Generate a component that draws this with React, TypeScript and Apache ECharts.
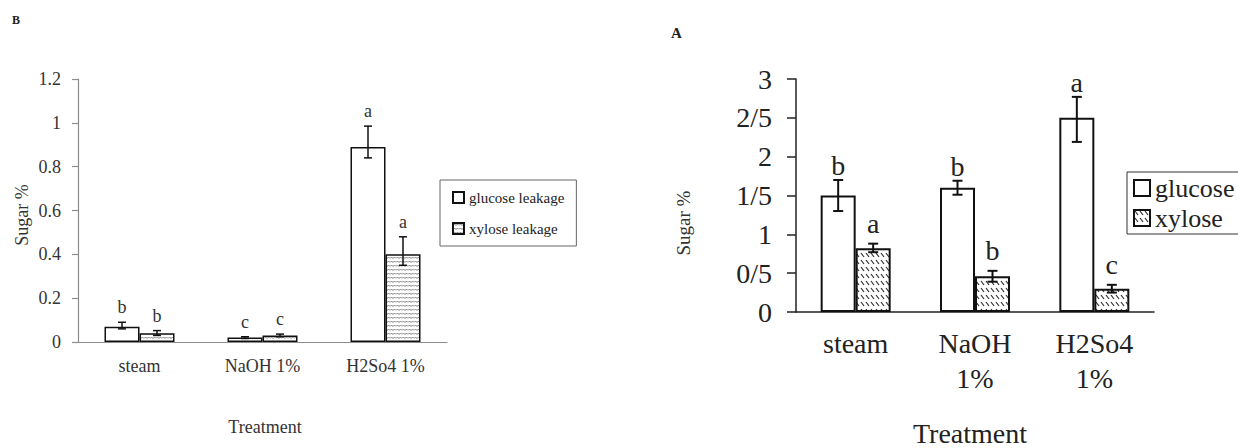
import React, { useEffect, useRef } from 'react';
import * as echarts from 'echarts';

// ---- Panel B data ----
const categoriesB = ['steam', 'NaOH 1%', 'H2So4 1%'];
const glucoseLeakage = [0.07, 0.02, 0.89];
const glucoseLeakagePlus = [0.02, 0.004, 0.095];
const glucoseLeakageMinus = [0.01, 0.004, 0.05];
const glucoseLeakageLetters = ['b', 'c', 'a'];
const xyloseLeakage = [0.04, 0.03, 0.4];
const xyloseLeakagePlus = [0.012, 0.006, 0.08];
const xyloseLeakageMinus = [0.01, 0.006, 0.05];
const xyloseLeakageLetters = ['b', 'c', 'a'];
const ticksB = { min: 0, max: 1.2, interval: 0.2 };

// ---- Panel A data ----
const categoriesA = ['steam', 'NaOH\n1%', 'H2So4\n1%'];
const glucoseA = [1.5, 1.6, 2.5];
const glucoseAPlus = [0.2, 0.09, 0.27];
const glucoseAMinus = [0.2, 0.09, 0.31];
const glucoseALetters = ['b', 'b', 'a'];
const xyloseA = [0.82, 0.46, 0.3];
const xyloseAPlus = [0.06, 0.07, 0.05];
const xyloseAMinus = [0.05, 0.07, 0.05];
const xyloseALetters = ['a', 'b', 'c'];
const ticksA = { min: 0, max: 3, interval: 0.5 };

const SERIF = '"Liberation Serif", "Times New Roman", serif';

function wavyTile() {
  const c = document.createElement('canvas');
  c.width = 6;
  c.height = 4;
  const ctx = c.getContext('2d')!;
  ctx.fillStyle = '#ffffff';
  ctx.fillRect(0, 0, 6, 4);
  ctx.strokeStyle = '#7a7a7a';
  ctx.lineWidth = 1;
  ctx.beginPath();
  ctx.moveTo(0, 2.5);
  ctx.lineTo(1.5, 1);
  ctx.lineTo(3, 2.5);
  ctx.lineTo(4.5, 1);
  ctx.lineTo(6, 2.5);
  ctx.stroke();
  return c;
}

function hatchTile() {
  const c = document.createElement('canvas');
  c.width = 5;
  c.height = 7;
  const ctx = c.getContext('2d')!;
  ctx.fillStyle = '#ffffff';
  ctx.fillRect(0, 0, 5, 7);
  ctx.strokeStyle = '#333333';
  ctx.lineWidth = 1.2;
  ctx.beginPath();
  ctx.moveTo(1, 1);
  ctx.lineTo(4, 5);
  ctx.stroke();
  return c;
}

function errorSeries(
  xAxisIndex: number,
  yAxisIndex: number,
  values: number[],
  plus: number[],
  minus: number[],
  letters: string[],
  side: number,
  barW: number,
  capW: number,
  lw: number,
  fontSize: number,
  offset: number,
  color: string
) {
  return {
    type: 'custom',
    xAxisIndex,
    yAxisIndex,
    z: 5,
    silent: true,
    encode: { x: 0, y: [1, 2] },
    data: values.map((v, i) => [i, v - minus[i], v + plus[i]]),
    renderItem: (params: any, api: any) => {
      const i = api.value(0);
      const lo = api.coord([i, api.value(1)]);
      const hi = api.coord([i, api.value(2)]);
      const x = lo[0] + (side * barW) / 2;
      const st = { stroke: '#111', lineWidth: lw };
      return {
        type: 'group',
        children: [
          { type: 'line', shape: { x1: x, y1: lo[1], x2: x, y2: hi[1] }, style: st },
          { type: 'line', shape: { x1: x - capW / 2, y1: lo[1], x2: x + capW / 2, y2: lo[1] }, style: st },
          { type: 'line', shape: { x1: x - capW / 2, y1: hi[1], x2: x + capW / 2, y2: hi[1] }, style: st },
          {
            type: 'text',
            x,
            y: hi[1] - offset,
            style: {
              text: letters[params.dataIndex],
              fontFamily: SERIF,
              fontSize,
              fill: color,
              align: 'center',
              verticalAlign: 'middle',
            },
          },
        ],
      };
    },
  };
}

export default function App() {
  const ref = useRef<HTMLDivElement>(null);

  useEffect(() => {
    const chart = echarts.init(ref.current!, null, { renderer: 'svg' });
    const wavy = { image: wavyTile(), repeat: 'repeat' };
    const hatch = { image: hatchTile(), repeat: 'repeat' };
    const grayAxis = '#8c8c8c';
    const darkAxis = '#222';

    const option: any = {
      animation: false,
      backgroundColor: '#ffffff',
      grid: [
        { left: 78, top: 79, width: 369, height: 263 },
        { left: 796, top: 79, width: 358, height: 233 },
      ],
      xAxis: [
        {
          type: 'category',
          gridIndex: 0,
          data: categoriesB,
          axisLine: { lineStyle: { color: grayAxis, width: 1.2 } },
          axisTick: { length: 7, lineStyle: { color: grayAxis, width: 1.2 } },
          axisLabel: { fontFamily: SERIF, fontSize: 18, color: '#333', margin: 15 },
        },
        {
          type: 'category',
          gridIndex: 1,
          data: categoriesA,
          axisLine: { lineStyle: { color: darkAxis, width: 1.5 } },
          axisTick: { length: 9, lineStyle: { color: darkAxis, width: 1.5 } },
          axisLabel: { fontFamily: SERIF, fontSize: 28, color: '#222', margin: 14, lineHeight: 35 },
        },
      ],
      yAxis: [
        {
          type: 'value',
          gridIndex: 0,
          min: ticksB.min,
          max: ticksB.max,
          interval: ticksB.interval,
          splitLine: { show: false },
          axisLine: { show: true, lineStyle: { color: grayAxis, width: 1.2 } },
          axisTick: { show: true, length: 6, lineStyle: { color: grayAxis, width: 1.2 } },
          axisLabel: { fontFamily: SERIF, fontSize: 18, color: '#333', margin: 17 },
        },
        {
          type: 'value',
          gridIndex: 1,
          min: ticksA.min,
          max: ticksA.max,
          interval: ticksA.interval,
          splitLine: { show: false },
          axisLine: { show: true, lineStyle: { color: darkAxis, width: 1.5 } },
          axisTick: { show: true, length: 9, lineStyle: { color: darkAxis, width: 1.5 } },
          axisLabel: {
            fontFamily: SERIF,
            fontSize: 28,
            color: '#222',
            margin: 24,
            formatter: (v: number) => String(v).replace('.', '/'),
          },
        },
      ],
      legend: [
        {
          data: ['glucose leakage', 'xylose leakage'],
          orient: 'vertical',
          left: 440,
          top: 180,
          selectedMode: false,
          icon: 'rect',
          itemWidth: 11,
          itemHeight: 11,
          itemGap: 16,
          padding: [10, 12, 10, 12],
          borderColor: '#666',
          borderWidth: 1,
          textStyle: { fontFamily: SERIF, fontSize: 15, color: '#222' },
        },
        {
          data: ['glucose', 'xylose'],
          orient: 'vertical',
          left: 1127,
          top: 172,
          selectedMode: false,
          icon: 'rect',
          itemWidth: 16,
          itemHeight: 16,
          itemGap: 4,
          padding: [3, 6, 3, 6],
          borderColor: '#333',
          borderWidth: 1,
          textStyle: { fontFamily: SERIF, fontSize: 26, color: '#222' },
        },
      ],
      series: [
        {
          name: 'glucose leakage',
          type: 'bar',
          xAxisIndex: 0,
          yAxisIndex: 0,
          data: glucoseLeakage,
          barWidth: 35,
          barGap: '0%',
          itemStyle: { color: '#ffffff', borderColor: '#111', borderWidth: 1.5 },
        },
        {
          name: 'xylose leakage',
          type: 'bar',
          xAxisIndex: 0,
          yAxisIndex: 0,
          data: xyloseLeakage,
          barWidth: 35,
          barGap: '0%',
          itemStyle: { color: wavy, borderColor: '#111', borderWidth: 1.5 },
        },
        {
          name: 'glucose',
          type: 'bar',
          xAxisIndex: 1,
          yAxisIndex: 1,
          data: glucoseA,
          barWidth: 35,
          barGap: '0%',
          itemStyle: { color: '#ffffff', borderColor: '#111', borderWidth: 2 },
        },
        {
          name: 'xylose',
          type: 'bar',
          xAxisIndex: 1,
          yAxisIndex: 1,
          data: xyloseA,
          barWidth: 35,
          barGap: '0%',
          itemStyle: { color: hatch, borderColor: '#111', borderWidth: 2 },
        },
        errorSeries(0, 0, glucoseLeakage, glucoseLeakagePlus, glucoseLeakageMinus, glucoseLeakageLetters, -1, 35, 8, 1.5, 18, 15, '#333'),
        errorSeries(0, 0, xyloseLeakage, xyloseLeakagePlus, xyloseLeakageMinus, xyloseLeakageLetters, 1, 35, 8, 1.5, 18, 15, '#333'),
        errorSeries(1, 1, glucoseA, glucoseAPlus, glucoseAMinus, glucoseALetters, -1, 35, 10, 2, 28, 14, '#222'),
        errorSeries(1, 1, xyloseA, xyloseAPlus, xyloseAMinus, xyloseALetters, 1, 35, 10, 2, 28, 20, '#222'),
      ],
      graphic: [
        { type: 'text', left: 12, top: 14, style: { text: 'B', fontFamily: SERIF, fontSize: 12, fontWeight: 'bold', fill: '#222' } },
        { type: 'text', left: 671, top: 25, style: { text: 'A', fontFamily: SERIF, fontSize: 15, fontWeight: 'bold', fill: '#222' } },
        {
          type: 'text',
          x: 22,
          y: 215,
          rotation: Math.PI / 2,
          style: { text: 'Sugar %', fontFamily: SERIF, fontSize: 18, fill: '#333', align: 'center', verticalAlign: 'middle' },
        },
        {
          type: 'text',
          x: 265,
          y: 427,
          style: { text: 'Treatment', fontFamily: SERIF, fontSize: 18, fill: '#333', align: 'center', verticalAlign: 'middle' },
        },
        {
          type: 'text',
          x: 683,
          y: 223,
          rotation: Math.PI / 2,
          style: { text: 'Sugar %', fontFamily: SERIF, fontSize: 19, fill: '#333', align: 'center', verticalAlign: 'middle' },
        },
        {
          type: 'text',
          x: 970,
          y: 433,
          style: { text: 'Treatment', fontFamily: SERIF, fontSize: 28, fill: '#222', align: 'center', verticalAlign: 'middle' },
        },
      ],
    };

    chart.setOption(option);
    return () => chart.dispose();
  }, []);

  return <div ref={ref} style={{ position: 'fixed', left: 0, top: 0, width: 1238, height: 448, background: '#fff' }} />;
}
